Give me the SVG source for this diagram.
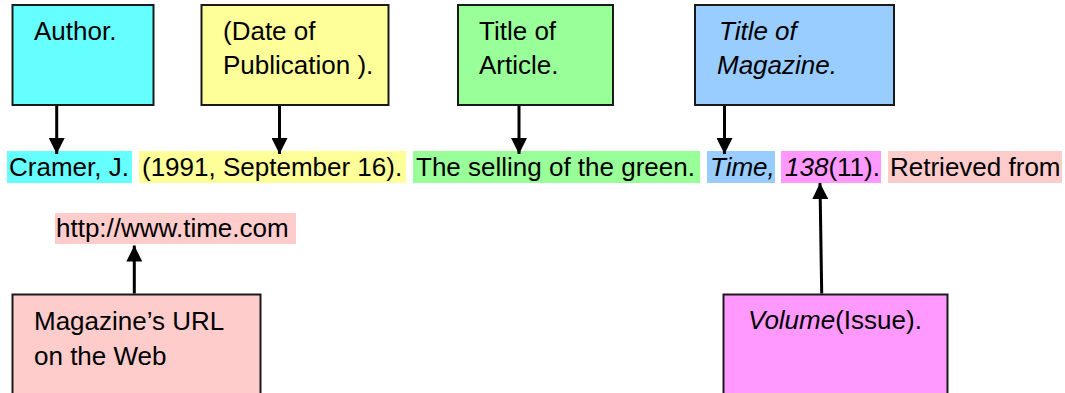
<svg xmlns="http://www.w3.org/2000/svg" width="1065" height="393" viewBox="0 0 1065 393">
<style>
text{font-family:"Liberation Sans",Arial,sans-serif;font-size:26px;fill:#000}
.it{font-style:italic}
.box{stroke:#1a1a1a;stroke-width:2}
.con{stroke:#000;stroke-width:3;fill:none;marker-end:url(#ah)}
</style>
<defs>
<marker id="ah" markerUnits="userSpaceOnUse" markerWidth="16" markerHeight="16" refX="16" refY="8" orient="auto">
<path d="M0,0 L16,8 L0,16 z" fill="#000"/>
</marker>
</defs>
<rect width="1065" height="393" fill="#fff"/>
<g id="citation">
<rect x="7" y="151" width="125" height="32" fill="#66FFFF"/>
<rect x="139" y="151" width="267" height="32" fill="#FFFF99"/>
<rect x="413" y="151" width="287" height="32" fill="#99FF99"/>
<rect x="707" y="151" width="68" height="32" fill="#99CCFF"/>
<rect x="781" y="151" width="100" height="32" fill="#FF99FF"/>
<rect x="888" y="151" width="174" height="32" fill="#FFCCCC"/>
<text x="9" y="176">Cramer, J.</text>
<text x="142" y="176">(1991, September 16).</text>
<text x="416" y="176">The selling of the green.</text>
<text x="710" y="176" class="it">Time,</text>
<text x="785" y="176"><tspan class="it">138</tspan>(11).</text>
<text x="890" y="176">Retrieved from</text>
<rect x="55" y="213" width="241" height="31" fill="#FFCCCC"/>
<text x="56" y="237">http://www.time.com</text>
</g>
<g id="author">
<rect class="box" x="12.5" y="5" width="141" height="100" fill="#66FFFF"/>
<text x="34" y="40">Author.</text>
</g>
<g id="date">
<rect class="box" x="201.5" y="5" width="187" height="100" fill="#FFFF99"/>
<text x="223" y="40">(Date of</text>
<text x="223" y="74">Publication ).</text>
</g>
<g id="article">
<rect class="box" x="458" y="5" width="155" height="100" fill="#99FF99"/>
<text x="479" y="40">Title of</text>
<text x="479" y="74">Article.</text>
</g>
<g id="magazine">
<rect class="box" x="695" y="5" width="199" height="100" fill="#99CCFF"/>
<text x="719" y="40" class="it">Title of</text>
<text x="717" y="74" class="it">Magazine.</text>
</g>
<g id="url">
<rect class="box" x="12.5" y="294.5" width="248" height="110" fill="#FFCCCC"/>
<text x="34" y="330">Magazine’s URL</text>
<text x="34" y="365">on the Web</text>
</g>
<g id="volume">
<rect class="box" x="723.5" y="294.5" width="224" height="110" fill="#FF99FF"/>
<text x="748" y="329"><tspan class="it">Volume</tspan>(Issue).</text>
</g>
<g id="connectors">
<line class="con" x1="56.7" y1="106" x2="56.7" y2="154"/>
<line class="con" x1="279.5" y1="106" x2="279.5" y2="154"/>
<line class="con" x1="519" y1="106" x2="519" y2="154"/>
<line class="con" x1="724.5" y1="106" x2="724.5" y2="154"/>
<line class="con" x1="134.3" y1="293.5" x2="134.3" y2="245.5"/>
<line class="con" x1="821.7" y1="293.5" x2="820" y2="183"/>
</g>
</svg>
